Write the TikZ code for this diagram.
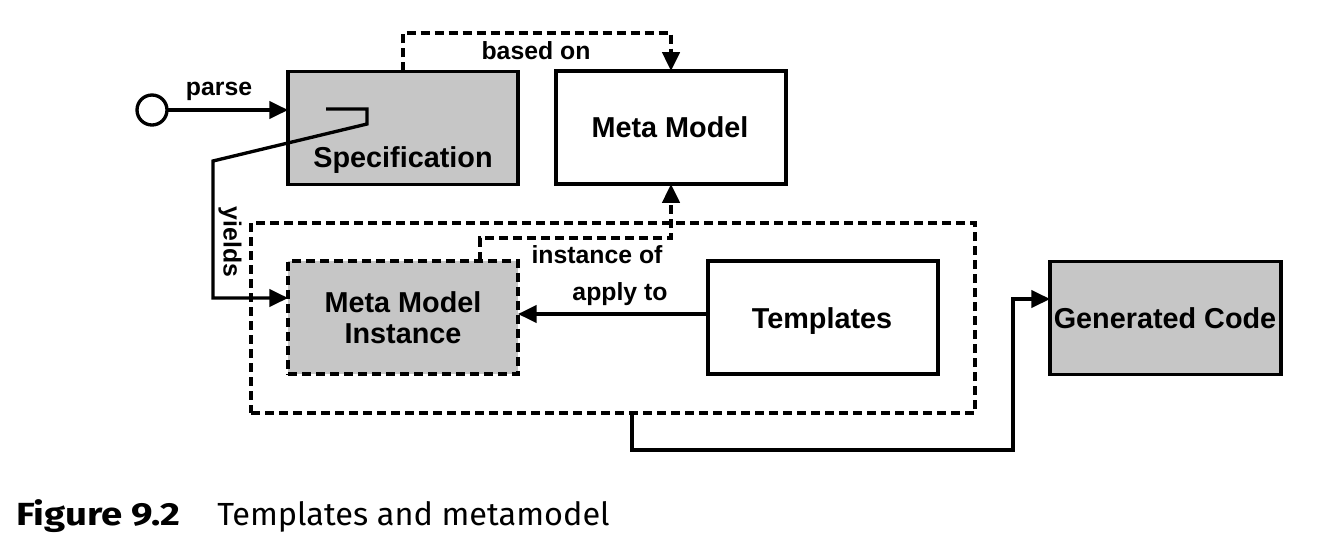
\documentclass[tikz,border=0pt]{standalone}
\usepackage{fontspec}
\setmainfont{Liberation Sans}
\newfontfamily\capfont{Fira Sans}
\usetikzlibrary{arrows.meta,calc}
\definecolor{boxgray}{RGB}{198,198,198}
\begin{document}
\begin{tikzpicture}[x=0.75pt,y=-0.75pt,
  box/.style={draw,line width=2.6pt,rectangle,inner sep=0pt,outer sep=0pt,minimum width=172.5pt,minimum height=85pt},
  graybox/.style={box,fill=boxgray},
  dashpat/.style={dash pattern=on 6.75pt off 3.75pt},
  maintext/.style={font=\fontsize{21.6}{23.25}\selectfont\bfseries,inner sep=0pt,anchor=base,align=center},
  lbl/.style={font=\fontsize{18.6}{22}\selectfont\bfseries,inner sep=0pt,anchor=base},
  conn/.style={line width=2.5pt,-{Triangle[length=14pt,width=13pt]}},
  dconn/.style={conn,dashpat},
]
\useasboundingbox (0,0) rectangle (1344,546);

% dashed frame
\node[draw,line width=2.5pt,dashpat,inner sep=0pt,outer sep=0pt,minimum width=543pt,minimum height=142.5pt] (frame) at (613,318) {};

% boxes
\node[graybox] (spec) at (403,128) {};
\node[maintext] (spect) at (403,167) {Specification};
\node[box] (mm) at (671,127.5) {};
\node[maintext] (mmt) at (670,137) {Meta Model};
\node[graybox,dashpat] (mmi) at (403,317.5) {};
\node[maintext,anchor=center] (mmit) at (403,317.5) {Meta Model\\Instance};
\node[box] (tpl) at (823,317.5) {};
\node[maintext] (tplt) at (822,328) {Templates};
\node[graybox,minimum width=173.25pt] (gc) at (1165.5,318) {};
\node[maintext] (gct) at (1165,328) {Generated Code};

% start circle and parse
\node[circle,draw,line width=2.5pt,minimum size=22.5pt,inner sep=0pt,outer sep=0pt] (start) at (152,110) {};
\draw[conn] (start.east) -- (spec.west |- start.east);
\node[lbl] (parse) at (219,95) {parse};

% based on
\draw[dconn] (spec.north) -- (403,33) -| (mm.north);
\node[lbl] (basedon) at (536,59) {based on};

% yields
\coordinate (ys) at (326,109);
\coordinate (yb) at (213,298);
\draw[conn] (ys) -- (367,109) -- (367,124) -- (213,161) -- (yb) -- (yb -| mmi.west);
\node[lbl,rotate=-90,anchor=center] (yields) at (230,242) {yields};

% instance of
\coordinate (ia) at (480,238);
\draw[dconn] (ia |- mmi.north) -- (ia) -| (mm.south);
\node[lbl] (instof) at (597,263) {instance of};

% apply to
\coordinate (ap) at (708,314);
\draw[conn] (ap) -- (ap -| mmi.east);
\node[lbl] (applyto) at (620,300) {apply to};

% output
\coordinate (ob) at (632,450);
\coordinate (og) at (1013,299);
\draw[conn] (ob |- frame.south) -- (ob) -| (og) -- (og -| gc.west);

% caption
\node[inner sep=0pt,anchor=base west] (figno) at (16,525) {\scalebox{1.2}[1]{\capfont\fontsize{24}{28}\selectfont\bfseries Figure 9.2}};
\node[inner sep=0pt,anchor=base west] (figcap) at (217,525) {\scalebox{1.015}[1]{\capfont\fontsize{24}{28}\selectfont Templates and metamodel}};
\end{tikzpicture}
\end{document}
